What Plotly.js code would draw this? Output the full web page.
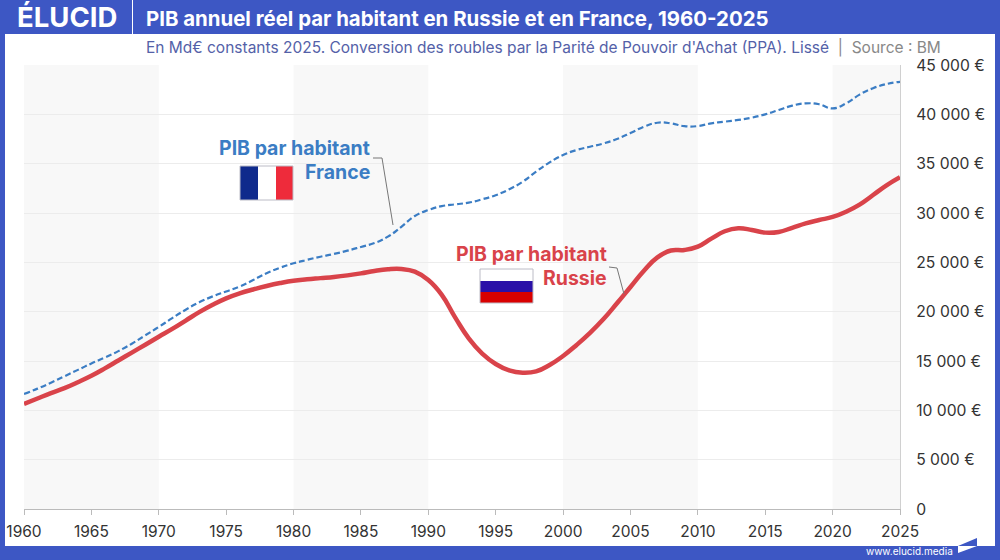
<!DOCTYPE html>
<html><head><meta charset="utf-8">
<script src="https://cdn.plot.ly/plotly-3.0.1.min.js"></script>
<style>html,body{margin:0;padding:0;background:#fff}#c{width:1000px;height:560px}</style>
</head><body><div id="c"></div>
<script>
const years = [];
for (let y = 1960; y <= 2025; y++) years.push(y);
const france = [11650,12200,12800,13450,14100,14750,15350,16000,16750,17600,
18450,19350,20200,20950,21550,22050,22550,23200,23900,24450,
24900,25250,25570,25850,26180,26560,26950,27600,28600,29700,
30300,30700,30880,31050,31390,31800,32400,33170,34190,35130,
35880,36380,36720,37050,37500,38100,38750,39150,39090,38800,
38810,39090,39260,39430,39660,40000,40440,40880,41110,41020,
40600,41110,42000,42650,43070,43300];
const russia = [10640,11200,11750,12250,12850,13500,14250,15050,15850,16650,
17460,18250,19100,19950,20700,21350,21850,22250,22600,22900,
23140,23280,23400,23520,23680,23880,24120,24290,24320,24050,
23200,21700,19400,17300,15750,14700,14050,13820,13950,14600,
15510,16620,17850,19250,20850,22500,24150,25500,26200,26250,
26590,27400,28150,28450,28280,28010,28080,28500,28950,29290,
29600,30130,30850,31820,32800,33620];
const yTickVals = [0,5000,10000,15000,20000,25000,30000,35000,40000,45000];
const yTickText = ['0','5 000 €','10 000 €','15 000 €','20 000 €','25 000 €','30 000 €','35 000 €','40 000 €','45 000 €'];
const xTickVals = [1960,1965,1970,1975,1980,1985,1990,1995,2000,2005,2010,2015,2020,2025];
const bands = [[1960,1970],[1980,1990],[2000,2010],[2020,2025]];

const W = 1000, H = 560, FONT = 'Inter, Lato, sans-serif';
const BLUE = '#3d57c4', FR = '#3b7dc4', RU = '#d9434a';
const px = x => x / W, py = y => 1 - y / H;
const rect = (x0,y0,x1,y1,color,layer='below') => ({type:'rect',xref:'paper',yref:'paper',
  x0:px(x0),x1:px(x1),y0:py(y0),y1:py(y1),fillcolor:color,line:{width:0},layer});
const poly = (pts,color,width,fill) => ({type:'path',xref:'paper',yref:'paper',
  path:pts.map((p,i)=>(i?'L':'M')+px(p[0])+','+py(p[1])).join(' ')+(fill?' Z':''),
  line:{color:color,width:width},fillcolor:fill||'rgba(0,0,0,0)',layer:'above'});
const frame = (x0,y0,x1,y1) => ({type:'rect',xref:'paper',yref:'paper',x0:px(x0),x1:px(x1),y0:py(y0),y1:py(y1),
  fillcolor:'rgba(0,0,0,0)',line:{color:'#bcbcc6',width:1},layer:'above'});
const label = (x,y,text,size,color,anchor='left',weight=400) => ({xref:'paper',yref:'paper',
  x:px(x),y:py(y),text,showarrow:false,xanchor:anchor,yanchor:'middle',align:anchor,
  font:{family:FONT,size,color,weight}});

const shapes = [
  rect(0,0,1000,34,BLUE), rect(0,0,5,560,BLUE), rect(995,0,1000,560,BLUE), rect(0,546,1000,560,BLUE),
  rect(132,0,133,34,'#ffffff'),
  ...bands.map(b=>({type:'rect',xref:'x',yref:'paper',x0:b[0],x1:b[1],y0:py(509),y1:py(65),
     fillcolor:'#f8f8f8',line:{width:0},layer:'below'})),
  rect(240,166,258,200,'#0f2a8c','above'), rect(258,166,276,200,'#ffffff','above'), rect(276,166,293,200,'#ee2b3b','above'),
  frame(240,166,293,200),
  rect(480,269,533,281,'#ffffff','above'), rect(480,281,533,292,'#2a10a8','above'), rect(480,292,533,303,'#d90000','above'),
  frame(480,269,533,303),
  poly([[373,158],[382,158],[393,225]],'#777',1),
  poly([[609,267],[617,268],[624,294]],'#777',1),
  poly([[958,546],[977,538],[977,546]],BLUE,0,BLUE),
  poly([[958,546],[977,546],[958,553]],'#ffffff',0,'#ffffff')
];
const annotations = [
  label(15,17,'ÉLUCID',27.5,'#ffffff','left',700),
  label(144,18,'PIB annuel réel par habitant en Russie et en France, 1960-2025',20.4,'#ffffff','left',700),
  label(144,47,'En Md€ constants 2025. Conversion des roubles par la Parité de Pouvoir d\'Achat (PPA). Lissé <span style="color:#888888">&nbsp;|&nbsp; Source : BM</span>',15.5,'#5461a8'),
  label(372,148,'PIB par habitant',19.5,FR,'right',700),
  label(372,172,'France',19.5,FR,'right',700),
  label(609,254,'PIB par habitant',19.5,RU,'right',700),
  label(609,278,'Russie',19.5,RU,'right',700),
  label(955,551,'www.elucid.media',10,'#ffffff','right',400)
];

Plotly.newPlot('c',[
  {x:years,y:france,type:'scatter',mode:'lines',name:'France',hoverinfo:'skip',
   line:{color:FR,width:2.2,dash:'6px,3px',shape:'spline',smoothing:1.3}},
  {x:years,y:russia,type:'scatter',mode:'lines',name:'Russie',hoverinfo:'skip',
   line:{color:RU,width:4.5,shape:'spline',smoothing:1.3}}
],{
  width:W,height:H,showlegend:false,
  margin:{l:0,r:0,t:0,b:0},
  paper_bgcolor:'#ffffff',plot_bgcolor:'rgba(0,0,0,0)',
  font:{family:FONT,color:'#333333'},
  xaxis:{domain:[px(24),px(900)],range:[1960,2025],tickvals:xTickVals,ticks:'outside',ticklen:5,tickcolor:'#bbbbbb',
    showgrid:false,showline:true,linecolor:'#bbbbbb',zeroline:false,tickangle:0,
    tickfont:{family:FONT,size:15.5,color:'#333333'},ticklabelstandoff:3,fixedrange:true},
  yaxis:{domain:[py(509),py(65)],range:[0,45000],side:'right',tickvals:yTickVals,ticktext:yTickText,
    ticks:'',showgrid:true,gridcolor:'#ececec',gridwidth:1,showline:true,linecolor:'#d0d0d0',zeroline:false,
    tickfont:{family:FONT,size:15.7,color:'#333333'},ticklabelstandoff:12,fixedrange:true},
  shapes,annotations
},{staticPlot:true,displayModeBar:false});
</script></body></html>
